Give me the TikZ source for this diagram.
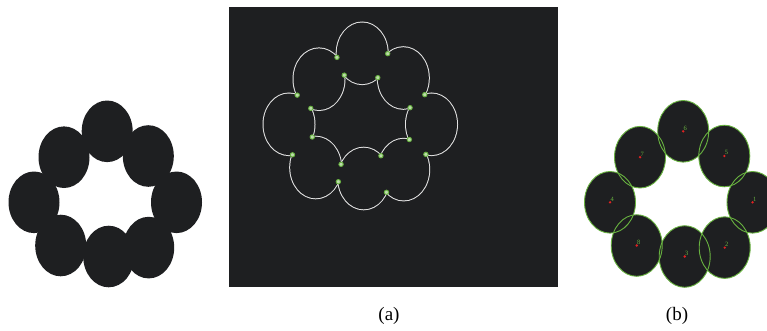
\documentclass[tikz,border=0pt]{standalone}
\usepackage{fontspec}
\setmainfont{Liberation Serif}
\usetikzlibrary{intersections}
\definecolor{ink}{RGB}{30,31,33}
\definecolor{leaf}{RGB}{104,178,64}
\definecolor{dotred}{RGB}{226,34,34}
\definecolor{rim}{RGB}{228,228,228}
\tikzset{%
  blob/.style={fill=ink,draw=none},
  rimline/.style={draw=rim,line width=2pt},
  ringline/.style={draw=leaf,line width=0.9pt},
  cusp/.style={fill=leaf!45!white,draw=leaf,line width=0.9pt},
  seed/.style={fill=dotred},
  tag/.style={text=leaf,font=\fontsize{6.5}{6.5}\selectfont,inner sep=0pt,anchor=south west},
  caption/.style={font=\fontsize{19}{22}\selectfont,inner sep=0pt}
}
\newcommand\blobrx{25.5pt}
\newcommand\blobry{30.8pt}
\newcommand\seeds{752.5/202.3/1,724.7/247.6/2,684.7/256.5/3,610/202.3/4,724.3/156/5,683.2/131.3/6,640/157.2/7,636.7/245.5/8}
\begin{document}
\begin{tikzpicture}[x=1pt,y=-1pt]
    \useasboundingbox (0,0) rectangle (767,330);
    % left: the filled blobs
    \foreach \x/\y/\n in \seeds
        \path[blob] (\x-576,\y) ellipse [x radius=\blobrx,y radius=\blobry];

    % (a): contour of the union, with its cusps
    \fill[ink] (229,7) rectangle (558,287);
    \foreach \x/\y/\n in \seeds
        \path[rimline,name path global=m\n] (\x-321,\y-78) ellipse [x radius=\blobrx,y radius=\blobry];
    \foreach \x/\y/\n in \seeds
        \path[blob] (\x-321,\y-78) ellipse [x radius=\blobrx,y radius=\blobry];
    \foreach \a/\b in {6/5,5/1,1/2,2/3,3/8,8/4,4/7,7/6}
        \path[cusp,name intersections={of={m\a} and {m\b}}]
            (intersection-1) circle (2.2pt) (intersection-2) circle (2.2pt);

    % (b): fitted ellipses with their centres
    \foreach \x/\y/\n in \seeds
        \path[blob] (\x,\y) ellipse [x radius=\blobrx,y radius=\blobry];
    \foreach \x/\y/\n in \seeds {
        \path[ringline] (\x,\y) ellipse [x radius=\blobrx,y radius=\blobry];
        \fill[seed] (\x,\y) circle (1.3pt);
        \node[tag] (tag\n) at (\x+0.3,\y-0.8) {\n};
    }

    \node[caption] (capa) at (389,316) {(a)};
    \node[caption] (capb) at (677,316) {(b)};
\end{tikzpicture}
\end{document}
